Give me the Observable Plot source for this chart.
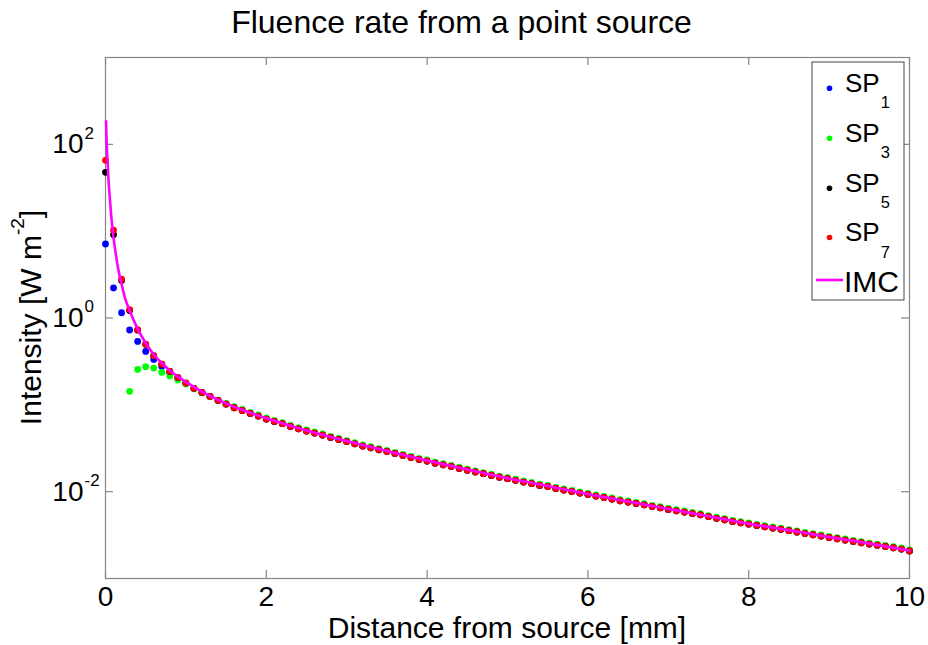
<!DOCTYPE html>
<html>
<head>
<meta charset="utf-8">
<script src="https://cdn.jsdelivr.net/npm/d3@7"></script>
<script src="https://cdn.jsdelivr.net/npm/@observablehq/plot@0.6"></script>
<style>
  html, body { margin: 0; padding: 0; background: #fff; }
  #chart { width: 928px; height: 645px; }
</style>
</head>
<body>
<div id="chart"></div>
<script>
// ---------------- data ----------------
const distance = [0,0.1,0.2,0.3,0.4,0.5,0.6,0.7,0.8,0.9,
  1,1.1,1.2,1.3,1.4,1.5,1.6,1.7,1.8,1.9,
  2,2.1,2.2,2.3,2.4,2.5,2.6,2.7,2.8,2.9,
  3,3.1,3.2,3.3,3.4,3.5,3.6,3.7,3.8,3.9,
  4,4.1,4.2,4.3,4.4,4.5,4.6,4.7,4.8,4.9,
  5,5.1,5.2,5.3,5.4,5.5,5.6,5.7,5.8,5.9,
  6,6.1,6.2,6.3,6.4,6.5,6.6,6.7,6.8,6.9,
  7,7.1,7.2,7.3,7.4,7.5,7.6,7.7,7.8,7.9,
  8,8.1,8.2,8.3,8.4,8.5,8.6,8.7,8.8,8.9,
  9,9.1,9.2,9.3,9.4,9.5,9.6,9.7,9.8,9.9,10];

const sp7 = [65.4,10.3,2.81,1.25,0.733,0.50,0.368,0.295,0.243,0.207,
  0.179,0.155,0.139,0.125,0.1124,0.102,0.0926,0.0862,0.0796,0.0743,
  0.0686,0.0644,0.0606,0.0564,0.0530,0.0499,0.0473,0.0449,0.0421,0.0399,
  0.0377,0.0356,0.0335,0.0320,0.0304,0.0290,0.0275,0.0261,0.0248,0.0235,
  0.0225,0.0213,0.0204,0.0195,0.0185,0.0177,0.0169,0.0161,0.0154,0.0147,
  0.0141,0.0135,0.0129,0.0124,0.0118,0.01148,0.01089,0.01042,0.01005,0.00963,
  0.00928,0.00889,0.00857,0.00822,0.00785,0.00759,0.00731,0.00706,0.00675,0.00652,
  0.00623,0.00602,0.00582,0.00560,0.00541,0.00516,0.00493,0.00475,0.00454,0.00438,
  0.00423,0.00408,0.00394,0.00381,0.00369,0.00355,0.00343,0.00329,0.00319,0.00308,
  0.00297,0.00287,0.00277,0.00267,0.00258,0.00249,0.00242,0.00234,0.00226,0.00218,0.00208];

const sp5 = [47.6,9.1,2.70,1.22,0.725,0.497,0.366,0.294,0.242,0.206,
  0.178,0.155,0.139,0.125,0.1124,0.102,0.0926,0.0862,0.0796,0.0743,
  0.0686,0.0644,0.0606,0.0564,0.0530,0.0499,0.0473,0.0449,0.0421,0.0399,
  0.0377,0.0356,0.0335,0.0320,0.0304,0.0290,0.0275,0.0261,0.0248,0.0235,
  0.0225,0.0213,0.0204,0.0195,0.0185,0.0177,0.0169,0.0161,0.0154,0.0147,
  0.0141,0.0135,0.0129,0.0124,0.0118,0.01148,0.01089,0.01042,0.01005,0.00963,
  0.00928,0.00889,0.00857,0.00822,0.00785,0.00759,0.00731,0.00706,0.00675,0.00652,
  0.00623,0.00602,0.00582,0.00560,0.00541,0.00516,0.00493,0.00475,0.00454,0.00438,
  0.00423,0.00408,0.00394,0.00381,0.00369,0.00355,0.00343,0.00329,0.00319,0.00308,
  0.00297,0.00287,0.00277,0.00267,0.00258,0.00249,0.00242,0.00234,0.00226,0.00218,0.00208];

const sp1 = [7.12,2.22,1.15,0.727,0.537,0.412,0.333,0.277,0.236,0.203,
  0.177,0.154,0.138,0.125,0.1124,0.102,0.0926,0.0862,0.0796,0.0743,
  0.0686,0.0644,0.0606,0.0564,0.0530,0.0499,0.0473,0.0449,0.0421,0.0399,
  0.0377,0.0356,0.0335,0.0320,0.0304,0.0290,0.0275,0.0261,0.0248,0.0235,
  0.0225,0.0213,0.0204,0.0195,0.0185,0.0177,0.0169,0.0161,0.0154,0.0147,
  0.0141,0.0135,0.0129,0.0124,0.0118,0.01148,0.01089,0.01042,0.01005,0.00963,
  0.00928,0.00889,0.00857,0.00822,0.00785,0.00759,0.00731,0.00706,0.00675,0.00652,
  0.00623,0.00602,0.00582,0.00560,0.00541,0.00516,0.00493,0.00475,0.00454,0.00438,
  0.00423,0.00408,0.00394,0.00381,0.00369,0.00355,0.00343,0.00329,0.00319,0.00308,
  0.00297,0.00287,0.00277,0.00267,0.00258,0.00249,0.00242,0.00234,0.00226,0.00218,0.00208];

const sp3 = [null,null,null,0.143,0.256,0.275,0.265,0.236,0.215,0.193,
  0.174,0.153,0.137,0.125,0.113,0.104,0.095,0.0885,0.082,0.0765,
  0.0707,0.0663,0.0624,0.0581,0.0546,0.0514,0.0487,0.0462,0.0434,0.0411,
  0.0388,0.0367,0.0345,0.0330,0.0313,0.0299,0.0283,0.0269,0.0255,0.0242,
  0.0232,0.0219,0.0210,0.0201,0.0191,0.0182,0.0174,0.0166,0.0159,0.0151,
  0.0145,0.0139,0.0133,0.0128,0.0122,0.01182,0.01122,0.01073,0.01035,0.00992,
  0.00956,0.00916,0.00883,0.00847,0.00809,0.00782,0.00753,0.00727,0.00695,0.00672,
  0.00642,0.00620,0.00599,0.00577,0.00557,0.00531,0.00508,0.00489,0.00468,0.00451,
  0.00436,0.00420,0.00406,0.00392,0.00380,0.00366,0.00353,0.00339,0.00329,0.00317,
  0.00306,0.00296,0.00285,0.00275,0.00266,0.00256,0.00249,0.00241,0.00233,0.00225,0.00214];

const imcDistance = [0.007,0.015,0.025,0.035,0.05,0.07,0.1,0.13,0.16,0.2,0.25,0.3,0.4,0.5,0.6,0.7,0.8,1.0,1.2,1.5,
  2.0,2.5,3.0,3.5,4.0,4.5,5.0,5.5,6.0,6.5,7.0,7.5,8.0,8.5,9.0,9.5,10.0];
const imcIntensity = [184,100,65,42,26.8,15.5,8.3,5.3,3.6,2.45,1.62,1.22,0.75,0.515,0.38,0.303,0.249,0.184,0.142,0.104,
  0.0700,0.0507,0.0383,0.0294,0.0229,0.0180,0.0143,0.0116,0.0094,0.0077,0.00633,0.00522,0.00428,0.00359,0.00301,0.00253,0.00210];

const seriesNames = ["SP1", "SP3", "SP5", "SP7"];
const seriesSubscripts = ["1", "3", "5", "7"];
const seriesColors = ["#0000ff", "#00ff00", "#000000", "#ff0000"];
const lineName = "IMC";
const lineColor = "#ff00ff";

const xTicks = [0, 2, 4, 6, 8, 10];
const yTicks = [1e-2, 1, 1e2];
const yTickExponents = ["-2", "0", "2"];

const titleText = "Fluence rate from a point source";
const xLabelText = "Distance from source [mm]";
const yLabelMain = "Intensity [W m";
const yLabelSup = "-2";
const yLabelEnd = "]";

// ---------------- chart ----------------
const W = 928, H = 645, ML = 105, MR = 19, MT = 57, MB = 67;
const FW = W - ML - MR, FH = H - MT - MB;
const FONT = "'Liberation Sans', Arial, Helvetica, sans-serif";
const AX = "#868686";
const TL = 8;

const allSeries = [sp1, sp3, sp5, sp7];
function rows(vals) {
  return distance.map((x, i) => ({x, y: vals[i]})).filter(d => d.y != null);
}
const imcRows = imcDistance.map((x, i) => ({x, y: imcIntensity[i]}));

const plot = Plot.plot({
  width: W, height: H,
  marginLeft: ML, marginRight: MR, marginTop: MT, marginBottom: MB,
  style: {fontFamily: FONT, background: "#fff", color: "#000", overflow: "visible"},
  x: {domain: [0, 10], axis: null},
  y: {type: "log", domain: [1e-3, 1e3], axis: null},
  marks: [
    Plot.frame({stroke: AX, strokeWidth: 1.2}),
    Plot.tickX(xTicks, {x: d => d, stroke: AX, strokeWidth: 1.2, insetTop: FH - TL}),
    Plot.tickX(xTicks, {x: d => d, stroke: AX, strokeWidth: 1.2, insetBottom: FH - TL}),
    Plot.tickY(yTicks, {y: d => d, stroke: AX, strokeWidth: 1.2, insetRight: FW - TL}),
    Plot.tickY(yTicks, {y: d => d, stroke: AX, strokeWidth: 1.2, insetLeft: FW - TL}),
    ...allSeries.map((s, k) => Plot.dot(rows(s), {x: "x", y: "y", r: 3.4, fill: seriesColors[k], stroke: "none"})),
    Plot.line(imcRows, {x: "x", y: "y", stroke: lineColor, strokeWidth: 2.6, curve: "monotone-x"}),
    Plot.text(xTicks, {x: d => d, frameAnchor: "bottom", lineAnchor: "top", dy: 8, fontSize: 28, fill: "#000", text: d => String(d)}),
    Plot.text(yTicks, {y: d => d, frameAnchor: "left", textAnchor: "end", dx: -22, fontSize: 28, fill: "#000", text: () => "10"}),
    Plot.text(yTicks, {y: d => d, frameAnchor: "left", textAnchor: "start", dx: -21, dy: -11, fontSize: 17, fill: "#000", text: (d, i) => yTickExponents[i]})
  ]
});

document.getElementById("chart").appendChild(plot);

// ---------------- title, axis labels, legend ----------------
const svg = d3.select(plot);
const g = svg.append("g").attr("font-family", FONT).attr("fill", "#000").attr("text-anchor", "start");

g.append("text").attr("x", 461.5).attr("y", 33).attr("text-anchor", "middle")
  .attr("font-size", 32).text(titleText);

g.append("text").attr("x", ML + FW / 2).attr("y", 638).attr("text-anchor", "middle")
  .attr("font-size", 30).text(xLabelText);

const yl = g.append("text").attr("transform", `translate(41,${MT + FH / 2}) rotate(-90)`)
  .attr("text-anchor", "middle").attr("font-size", 30);
yl.append("tspan").text(yLabelMain);
yl.append("tspan").attr("dy", -17).attr("font-size", 19).text(yLabelSup);
yl.append("tspan").attr("dy", 17).attr("font-size", 30).text(yLabelEnd);

// legend
const lg = g.append("g").attr("text-anchor", "start");
lg.append("rect").attr("x", 812).attr("y", 62).attr("width", 92).attr("height", 238)
  .attr("fill", "#fff").attr("stroke", "#444").attr("stroke-width", 1);
const rowY = [88.3, 138.3, 188.3, 237.5];
seriesNames.forEach((name, k) => {
  lg.append("circle").attr("cx", 829.5).attr("cy", rowY[k]).attr("r", 2.8).attr("fill", seriesColors[k]);
  const t = lg.append("text").attr("x", 845).attr("y", rowY[k] + 3.5).attr("font-size", 26).attr("text-anchor", "start");
  t.append("tspan").text(name.slice(0, 2));
  t.append("tspan").attr("dx", 1).attr("dy", 16.6).attr("font-size", 16.5).text(seriesSubscripts[k]);
});
lg.append("line").attr("x1", 816).attr("x2", 843).attr("y1", 280).attr("y2", 280)
  .attr("stroke", lineColor).attr("stroke-width", 2.6);
lg.append("text").attr("x", 844).attr("y", 292).attr("font-size", 30).attr("text-anchor", "start").text(lineName);
</script>
</body>
</html>
